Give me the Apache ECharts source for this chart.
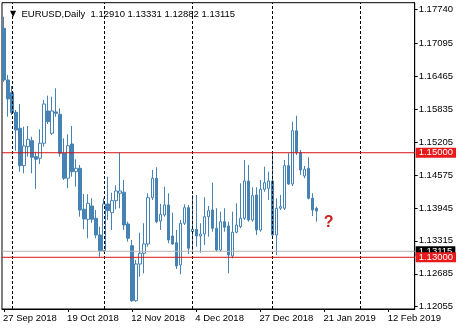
<!DOCTYPE html>
<html>
<head>
<meta charset="utf-8">
<style>
html,body{margin:0;padding:0;background:#fff;}
#chart{width:460px;height:330px;}
</style>
<script src="https://cdn.jsdelivr.net/npm/echarts@6/dist/echarts.min.js"></script>
</head>
<body>
<div id="chart"></div>
<script>
// Trading-day categories (Daily bars)
var categories = [
'27 Sep 2018','28 Sep 2018','1 Oct 2018','2 Oct 2018','3 Oct 2018','4 Oct 2018','5 Oct 2018','8 Oct 2018','9 Oct 2018','10 Oct 2018',
'11 Oct 2018','12 Oct 2018','15 Oct 2018','16 Oct 2018','17 Oct 2018','18 Oct 2018','19 Oct 2018','22 Oct 2018','23 Oct 2018','24 Oct 2018',
'25 Oct 2018','26 Oct 2018','29 Oct 2018','30 Oct 2018','31 Oct 2018','1 Nov 2018','2 Nov 2018','5 Nov 2018','6 Nov 2018','7 Nov 2018',
'8 Nov 2018','9 Nov 2018','12 Nov 2018','13 Nov 2018','14 Nov 2018','15 Nov 2018','16 Nov 2018','19 Nov 2018','20 Nov 2018','21 Nov 2018',
'22 Nov 2018','23 Nov 2018','26 Nov 2018','27 Nov 2018','28 Nov 2018','29 Nov 2018','30 Nov 2018','3 Dec 2018','4 Dec 2018','5 Dec 2018',
'6 Dec 2018','7 Dec 2018','10 Dec 2018','11 Dec 2018','12 Dec 2018','13 Dec 2018','14 Dec 2018','17 Dec 2018','18 Dec 2018','19 Dec 2018',
'20 Dec 2018','21 Dec 2018','24 Dec 2018','26 Dec 2018','27 Dec 2018','28 Dec 2018','31 Dec 2018','2 Jan 2019','3 Jan 2019','4 Jan 2019',
'7 Jan 2019','8 Jan 2019','9 Jan 2019','10 Jan 2019','11 Jan 2019','14 Jan 2019','15 Jan 2019','16 Jan 2019','17 Jan 2019','18 Jan 2019',
'21 Jan 2019','22 Jan 2019','23 Jan 2019','24 Jan 2019','25 Jan 2019','28 Jan 2019','29 Jan 2019','30 Jan 2019','31 Jan 2019','1 Feb 2019',
'4 Feb 2019','5 Feb 2019','6 Feb 2019','7 Feb 2019','8 Feb 2019','11 Feb 2019','12 Feb 2019','13 Feb 2019','14 Feb 2019','15 Feb 2019',
'18 Feb 2019','19 Feb 2019','20 Feb 2019'
];

var opens = [1.17381,1.16392,1.16149,1.15774,1.15468,1.14753,1.15116,1.15231,1.14925,1.14894,
1.15181,1.15799,1.15372,1.15780,1.15736,1.14990,1.14512,1.15168,1.14638,1.14703,
1.13919,1.13727,1.13982,1.13746,1.13427,1.13127,1.14020,1.13853,1.14083,1.14225,
1.14244,1.13637,1.13222,1.12170,1.12872,1.13077,1.13255,1.14140,1.14512,1.13695,
1.13810,1.14001,1.13408,1.13280,1.12853,1.13651,1.13949,1.13490,1.13536,1.13408,
1.13446,1.13777,1.13905,1.13555,1.13140,1.13681,1.13599,1.13025,1.13479,1.13586,
1.13746,1.14460,1.13714,1.14192,1.13523,1.14301,1.14320,1.14460,1.13427,1.13938,
1.13938,1.14753,1.14402,1.15422,1.15001,1.14556,1.14703,1.14129,1.13938];

var closes = [1.16392,1.16028,1.15766,1.15435,1.14753,1.15129,1.15258,1.14913,1.14875,1.15181,
1.15933,1.15594,1.15799,1.15755,1.14990,1.14512,1.15135,1.14638,1.14703,1.13905,
1.13733,1.14033,1.13727,1.13427,1.13127,1.14020,1.13892,1.14083,1.14269,1.14269,
1.13618,1.13364,1.12170,1.12872,1.13077,1.13255,1.14140,1.14512,1.13681,1.13823,
1.14001,1.13331,1.13255,1.12834,1.13651,1.13949,1.13173,1.13536,1.13408,1.13446,
1.13777,1.13892,1.13555,1.13140,1.13681,1.13574,1.13044,1.13479,1.13618,1.13746,
1.14460,1.13714,1.14179,1.13523,1.14301,1.14427,1.14460,1.13427,1.13938,1.13968,
1.14753,1.14402,1.15422,1.15001,1.14670,1.14684,1.14129,1.13905,1.13886];

var lows = [1.16353,1.15690,1.15722,1.15039,1.14638,1.14607,1.14925,1.14607,1.14307,1.14785,
1.15116,1.15550,1.15340,1.15690,1.14925,1.14479,1.14320,1.14542,1.14351,1.13777,
1.13536,1.13364,1.13660,1.13364,1.13012,1.13108,1.13714,1.13523,1.13919,1.13938,
1.13523,1.13299,1.12151,1.12151,1.12629,1.12694,1.13203,1.14096,1.13651,1.13523,
1.13777,1.13268,1.13236,1.12777,1.12675,1.13618,1.13064,1.13127,1.13203,1.13088,
1.13236,1.13394,1.13490,1.13108,1.13108,1.13490,1.12694,1.12981,1.13459,1.13555,
1.13714,1.13681,1.13681,1.13427,1.13490,1.14255,1.14096,1.13394,1.13044,1.13905,
1.13905,1.14383,1.14364,1.14957,1.14575,1.14512,1.14110,1.13790,1.13681];

var highs = [1.17603,1.16487,1.16277,1.15818,1.15933,1.15499,1.15512,1.15307,1.15020,1.15449,
1.16009,1.16092,1.16072,1.16233,1.15850,1.15277,1.15353,1.15512,1.14875,1.14766,
1.14211,1.14205,1.14129,1.13905,1.13586,1.14129,1.14542,1.14236,1.14378,1.15001,
1.14479,1.13681,1.13331,1.12949,1.13471,1.13651,1.14225,1.14670,1.14722,1.14020,
1.14351,1.14225,1.13853,1.13523,1.13714,1.14014,1.14001,1.14192,1.14192,1.13651,
1.14148,1.13982,1.14427,1.13938,1.13873,1.13938,1.13681,1.13873,1.14033,1.14416,
1.14862,1.14766,1.14339,1.14339,1.14479,1.14733,1.14638,1.15020,1.14129,1.14192,
1.14862,1.14990,1.15594,1.15709,1.15053,1.14747,1.14913,1.14225,1.13968];

var yTicks = [1.17740,1.17095,1.16465,1.15835,1.15205,1.14575,1.13945,1.13315,1.12685,1.12055];
var yRange = [1.12011, 1.17870];
var monthStarts = ['1 Oct 2018','1 Nov 2018','3 Dec 2018','2 Jan 2019','1 Feb 2019'];
// horizontal levels: bid line first (drawn underneath), then the two red levels
var levelValues = [1.13115, 1.15000, 1.13000];
var levelKinds  = ['bid', 'red', 'red'];
var headerSymbol = 'EURUSD,Daily';
var headerOHLC = ['1.12910','1.13331','1.12882','1.13115'];
var questionPoint = ['22 Jan 2019', 1.13657];

var ohlc = opens.map(function(o,i){ return [o, closes[i], lows[i], highs[i]]; });
var levelData = levelValues.map(function(v, i){ return [i, v]; });

var FONT = 'Liberation Sans';
var KIND_STYLE = {
  bid: {line:'#b4b4b4', bg:'#000000'},
  red: {line:'#d41414', bg:'#e8191b'}
};

var chart = echarts.init(document.getElementById('chart'), null, {renderer:'canvas'});
chart.setOption({
  animation:false,
  backgroundColor:'#ffffff',
  textStyle:{fontFamily:FONT},
  title:{
    left:5, top:4,
    text:'{t|▼}  ' + headerSymbol + '  ' + headerOHLC.join(' '),
    textStyle:{
      fontFamily:FONT, fontSize:9.5, fontWeight:'normal', color:'#000',
      rich:{ t:{fontSize:8, color:'#000', fontFamily:'DejaVu Sans'} }
    }
  },
  grid:{left:1.5, top:2.7, right:45.3, bottom:21, show:true, borderColor:'#000', borderWidth:1, backgroundColor:'#fff'},
  xAxis:{
    type:'category', data:categories, boundaryGap:true,
    axisLine:{show:true, onZero:false, lineStyle:{color:'#000', width:1}},
    axisTick:{show:true, interval:15, alignWithLabel:true, length:3, lineStyle:{color:'#000'}},
    axisLabel:{interval:15, align:'left', margin:4, fontSize:9.5, color:'#000', fontFamily:FONT, padding:[0,0,0,-1]},
    splitLine:{show:false}
  },
  yAxis:{
    type:'value', position:'right', min:yRange[0], max:yRange[1], scale:true,
    axisLine:{show:true, lineStyle:{color:'#000', width:1}},
    axisTick:{show:true, length:3, customValues:yTicks, lineStyle:{color:'#000'}},
    axisLabel:{customValues:yTicks, margin:4, fontSize:9.5, color:'#000', fontFamily:FONT,
      formatter:function(v){ return v.toFixed(5); }},
    splitLine:{show:false}
  },
  series:[
  {
    name:'separators', type:'line', data:[], z:1, silent:true,
    markLine:{
      silent:true, symbol:'none', animation:false,
      label:{show:false},
      lineStyle:{type:[3,2], color:'#000', width:1},
      data:monthStarts.map(function(d){ return {xAxis:d}; })
    }
  },
  {
    name:'EURUSD', type:'candlestick', z:3,
    data:ohlc,
    barWidth:3,
    itemStyle:{color:'#ffffff', color0:'#4682b4', borderColor:'#4682b4', borderColor0:'#4682b4', borderWidth:1},
    markPoint:{
      silent:true, animation:false,
      data:[{coord:questionPoint, symbol:'circle', symbolSize:1, itemStyle:{color:'rgba(0,0,0,0)'},
        label:{show:true, position:'inside', formatter:'?', color:'#c8201e', fontSize:16, fontWeight:'bold', fontFamily:FONT}}]
    }
  },
  {
    name:'levels', type:'custom', z:5, silent:true, clip:false,
    data:levelData,
    encode:{x:0, y:1},
    renderItem:function(params, api){
      var v = api.value(1);
      var st = KIND_STYLE[levelKinds[params.dataIndex]];
      var cs = params.coordSys;
      var y = api.coord([0, v])[1];
      return {
        type:'group',
        children:[
          {type:'line', shape:{x1:cs.x, y1:y, x2:cs.x + cs.width, y2:y},
            style:{stroke:st.line, lineWidth:1}},
          {type:'text', x:cs.x + cs.width + 1, y:y,
            style:{text:v.toFixed(5), fill:'#ffffff', backgroundColor:st.bg,
              padding:[1,3,0,3], fontSize:9.5, fontFamily:FONT, lineHeight:9,
              align:'left', verticalAlign:'middle'}}
        ]
      };
    }
  }
  ]
});
</script>
</body>
</html>
